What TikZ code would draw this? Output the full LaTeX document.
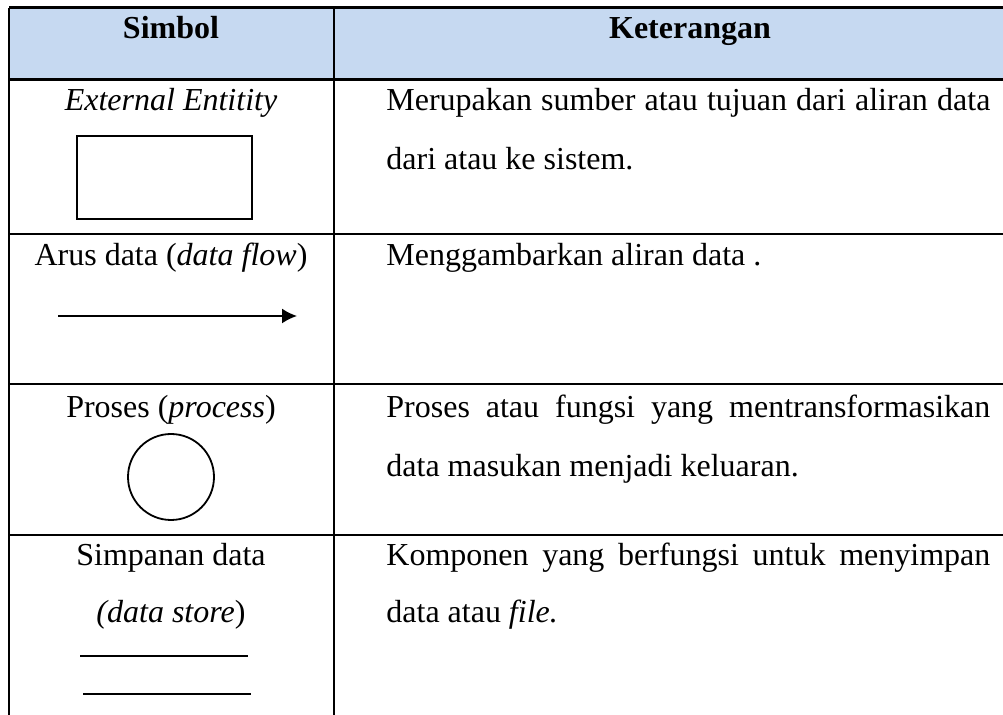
\documentclass[tikz,border=0pt]{standalone}
\usepackage{fontspec}
\setmainfont{Liberation Serif}
\usetikzlibrary{arrows.meta}
\definecolor{headblue}{HTML}{C6D9F1}
\tikzset{
  txt/.style={inner sep=0pt, anchor=base, font=\fontsize{16}{19}\selectfont},
  ltxt/.style={txt, anchor=base west},
  rule/.style={line width=1pt},
  thick rule/.style={line width=1.5pt},
  sym/.style={line width=0.9pt}
}
\begin{document}
\begin{tikzpicture}[x=0.5pt,y=-0.5pt]
\useasboundingbox (0,0) rectangle (1003,715);
% header fill
\fill[headblue] (9,8) rectangle (1003,80);
% grid
\draw[thick rule] (9,8) -- (1003,8);
\draw[thick rule] (9,80) -- (1003,80);
\draw[rule] (9,234) -- (1003,234);
\draw[rule] (9,384) -- (1003,384);
\draw[rule] (9,535) -- (1003,535);
\draw[rule] (9,8) -- (9,715);
\draw[rule] (334,8) -- (334,715);
% header
\node[txt, font=\fontsize{16}{19}\selectfont\bfseries] (h1) at (171,39) {Simbol};
\node[txt, font=\fontsize{16}{19}\selectfont\bfseries] (h2) at (690,39) {Keterangan};
% row 1
\node[txt] (s1) at (171,111) {\itshape External Entitity};
\node[draw, sym, minimum width=87.5pt, minimum height=41.5pt, inner sep=0pt] (ent) at (164.5,177.5) {};
\node[ltxt] (k1a) at (386,111) {\makebox[302pt][s]{Merupakan sumber atau tujuan dari aliran data}};
\node[ltxt] (k1b) at (386,170) {dari atau ke sistem.};
% row 2
\node[txt] (s2) at (171,266) {Arus data (\textit{data flow})};
\coordinate (a1) at (58,316);
\coordinate (a2) at (297,316);
\draw[sym, -{Latex[length=7.5pt,width=7.5pt]}] (a1) -- (a2);
\node[ltxt] (k2) at (386,266) {Menggambarkan aliran data .};
% row 3
\node[txt] (s3) at (171,418) {Proses (\textit{process})};
\node[draw, sym, circle, minimum size=43pt, inner sep=0pt] (proc) at (171,477) {};
\node[ltxt] (k3a) at (386,418) {\makebox[302pt][s]{Proses atau fungsi yang mentransformasikan}};
\node[ltxt] (k3b) at (386,477) {data masukan menjadi keluaran.};
% row 4
\node[txt] (s4a) at (171,566) {Simpanan data};
\node[txt] (s4b) at (171,623) {\textit{(data store})};
\coordinate (d1) at (80,656);
\coordinate (d2) at (248,656);
\coordinate (d3) at (83,694);
\coordinate (d4) at (251,694);
\draw[sym] (d1) -- (d2);
\draw[sym] (d3) -- (d4);
\node[ltxt] (k4a) at (386,566) {\makebox[302pt][s]{Komponen yang berfungsi untuk menyimpan}};
\node[ltxt] (k4b) at (386,623) {data atau \textit{file.}};
\end{tikzpicture}
\end{document}
